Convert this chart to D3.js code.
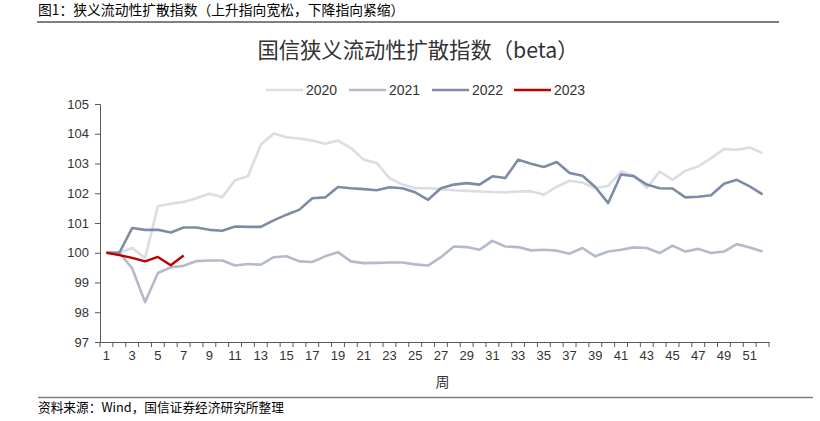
<!DOCTYPE html>
<html>
<head>
<meta charset="utf-8">
<script src="https://cdn.jsdelivr.net/npm/d3@7"></script>
<style>
  body { margin: 0; background: #fff; }
  svg { display: block; }
</style>
</head>
<body>
<svg id="chart" width="820" height="421"></svg>
<script>
// weekly values
const weeks = d3.range(1, 53);
const years = ["2020", "2021", "2022", "2023"];
const y2020 = [100.0, 100.0, 100.16, 99.82, 101.56, 101.65, 101.71, 101.83, 101.98, 101.87,
  102.44, 102.57, 103.63, 104.01, 103.88, 103.84, 103.77, 103.66, 103.77, 103.52,
  103.13, 103.02, 102.51, 102.29, 102.17, 102.17, 102.14, 102.1, 102.08, 102.06,
  102.04, 102.03, 102.06, 102.07, 101.95, 102.22, 102.42, 102.36, 102.17, 102.25,
  102.73, 102.6, 102.17, 102.73, 102.45, 102.76, 102.9, 103.18, 103.49, 103.46,
  103.54, 103.35];
const y2021 = [100.0, 100.0, 99.48, 98.34, 99.32, 99.51, 99.56, 99.72, 99.74, 99.74,
  99.57, 99.62, 99.6, 99.85, 99.88, 99.71, 99.69, 99.88, 100.02, 99.71,
  99.65, 99.66, 99.67, 99.67, 99.61, 99.57, 99.85, 100.21, 100.19, 100.1,
  100.4, 100.21, 100.19, 100.08, 100.1, 100.07, 99.97, 100.16, 99.88, 100.04,
  100.1, 100.18, 100.16, 99.99, 100.24, 100.04, 100.13, 99.99, 100.04, 100.29,
  100.18, 100.04];
const y2022 = [100.0, 100.0, 100.83, 100.77, 100.77, 100.68, 100.85, 100.85, 100.77, 100.74,
  100.88, 100.87, 100.87, 101.09, 101.28, 101.45, 101.83, 101.86, 102.21, 102.17,
  102.14, 102.1, 102.2, 102.17, 102.03, 101.78, 102.17, 102.29, 102.34, 102.29,
  102.57, 102.51, 103.13, 102.99, 102.88, 103.05, 102.68, 102.59, 102.21, 101.67,
  102.63, 102.57, 102.29, 102.17, 102.16, 101.86, 101.88, 101.93, 102.32, 102.45,
  102.23, 101.96];
const y2023 = [100.0, 99.92, 99.83, 99.71, 99.86, 99.58, 99.91];
const seriesValues = [y2020, y2021, y2022, y2023];
const colors = ["#d9dde4", "#b3bbca", "#7d8ca4", "#c00000"];
const yTicks = [97, 98, 99, 100, 101, 102, 103, 104, 105];

const svg = d3.select("#chart");
const margin = { left: 100, right: 51, top: 104, bottom: 79 };
const width = +svg.attr("width");
const height = +svg.attr("height");

const cjk = "'Noto Sans CJK SC', 'Noto Sans', sans-serif";
const latin = "'Liberation Sans', Arial, sans-serif";

// header and rules
svg.append("text")
  .attr("x", 38).attr("y", 15)
  .attr("font-family", cjk).attr("font-size", 13.8).attr("fill", "#000")
  .text("图1：狭义流动性扩散指数（上升指向宽松，下降指向紧缩）");
svg.append("line")
  .attr("x1", 37).attr("x2", 779).attr("y1", 22).attr("y2", 22)
  .attr("stroke", "#7f7f7f").attr("stroke-width", 2);

svg.append("text")
  .attr("x", 418).attr("y", 58)
  .attr("text-anchor", "middle")
  .attr("font-family", cjk).attr("font-size", 21.3).attr("fill", "#333")
  .text("国信狭义流动性扩散指数（beta）");

// scales
const x = d3.scaleBand()
  .domain(weeks)
  .range([margin.left, width - margin.right]);
const y = d3.scaleLinear()
  .domain([97, 105])
  .range([height - margin.bottom, margin.top]);

// axes
const yAxis = svg.append("g")
  .attr("transform", `translate(${margin.left},0)`)
  .call(d3.axisLeft(y).tickValues(yTicks).tickSize(5).tickPadding(6).tickFormat(d3.format("d")));
yAxis.selectAll("text").attr("font-family", latin).attr("font-size", 13).attr("fill", "#333");

const xAxis = svg.append("g")
  .attr("transform", `translate(0,${height - margin.bottom})`)
  .call(d3.axisBottom(x).tickSize(0).tickPadding(9)
    .tickFormat((d) => (d % 2 === 1 ? d : "")));
xAxis.selectAll("text").attr("font-family", latin).attr("font-size", 13).attr("fill", "#333");

// category boundary ticks
xAxis.selectAll(".bound")
  .data(weeks.concat([53]))
  .join("line")
  .attr("class", "bound")
  .attr("x1", (d) => (d === 53 ? x(52) + x.bandwidth() : x(d)))
  .attr("x2", (d) => (d === 53 ? x(52) + x.bandwidth() : x(d)))
  .attr("y1", 0).attr("y2", 5)
  .attr("stroke", "#595959");

svg.selectAll(".domain").attr("stroke", "#595959");
svg.selectAll(".tick line").attr("stroke", "#595959");

svg.append("text")
  .attr("x", (margin.left + width - margin.right) / 2 + 8)
  .attr("y", 387)
  .attr("text-anchor", "middle")
  .attr("font-family", cjk).attr("font-size", 14).attr("fill", "#333")
  .text("周");

// lines
const line = d3.line()
  .x((d, i) => x(weeks[i]) + x.bandwidth() / 2)
  .y((d) => y(d));

svg.append("g")
  .selectAll("path")
  .data(seriesValues)
  .join("path")
  .attr("d", line)
  .attr("fill", "none")
  .attr("stroke", (d, i) => colors[i])
  .attr("stroke-width", (d, i) => (i === 3 ? 2.4 : 2.6))
  .attr("stroke-linejoin", "round");

// legend
const legendX = [266, 349, 432, 514];
const legend = svg.append("g")
  .selectAll("g")
  .data(years)
  .join("g")
  .attr("transform", (d, i) => `translate(${legendX[i]},90)`);
legend.append("line")
  .attr("x1", 0).attr("x2", 37)
  .attr("stroke", (d, i) => colors[i])
  .attr("stroke-width", 2.6);
legend.append("text")
  .attr("x", 40).attr("y", 5)
  .attr("font-family", latin).attr("font-size", 14).attr("fill", "#333")
  .text((d) => d);

// source
svg.append("line")
  .attr("x1", 38).attr("x2", 813).attr("y1", 397.5).attr("y2", 397.5)
  .attr("stroke", "#7f7f7f").attr("stroke-width", 1.5);
svg.append("text")
  .attr("x", 38).attr("y", 412)
  .attr("font-family", cjk).attr("font-size", 12.7).attr("fill", "#000")
  .text("资料来源：Wind，国信证券经济研究所整理");
</script>
</body>
</html>
